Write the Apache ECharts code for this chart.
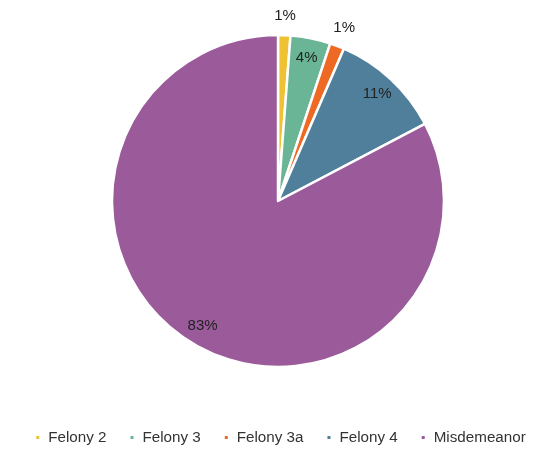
<!DOCTYPE html>
<html><head><meta charset="utf-8">
<script src="https://cdn.jsdelivr.net/npm/echarts@6/dist/echarts.min.js"></script>
<style>html,body{margin:0;padding:0;background:#fff}#c{width:560px;height:450px}</style>
</head><body><div id="c"></div>
<script>
var categories = ['Felony 2', 'Felony 3', 'Felony 3a', 'Felony 4', 'Misdemeanor'];
var values = [1.2, 3.9, 1.4, 10.8, 82.7];
var colors = ['#EFC234', '#69B596', '#EE6A24', '#4F7F9A', '#9B5B9B'];
var outsideLabels = ['Felony 2', 'Felony 3a'];

var chart = echarts.init(document.getElementById('c'));
var fmt = function (p) { return Math.round(p.percent) + '%'; };
var C = [278, 201], R = 166;
function mk(showFn) {
  return categories.map(function (n, i) {
    return { name: n, value: values[i], label: { show: showFn(n) } };
  });
}
chart.setOption({
  animation: false,
  color: colors,
  legend: {
    bottom: 0, left: 'center',
    icon: 'rect', itemWidth: 5, itemHeight: 5, itemGap: 22,
    textStyle: { fontFamily: 'Liberation Sans, Arial', fontSize: 15.2, color: '#333', padding: [0, 0, 0, 3] },
    data: categories
  },
  series: [
    {
      type: 'pie', center: C, radius: [0, R], startAngle: 90, clockwise: true,
      label: { show: false }, labelLine: { show: false },
      itemStyle: { borderColor: '#fff', borderWidth: 2.5 },
      data: categories.map(function (n, i) { return { name: n, value: values[i] }; })
    },
    {
      type: 'pie', center: C, radius: [R * 0.72, R], startAngle: 90, silent: true,
      itemStyle: { color: 'rgba(0,0,0,0)' },
      label: { position: 'inside', formatter: fmt, fontFamily: 'Liberation Sans, Arial', fontSize: 15, color: '#222' },
      labelLine: { show: false },
      data: mk(function (n) { return outsideLabels.indexOf(n) < 0; })
    },
    {
      type: 'pie', center: C, radius: [R * 1.04, R * 1.16], startAngle: 90, silent: true,
      itemStyle: { color: 'rgba(0,0,0,0)' },
      label: { position: 'inside', formatter: fmt, fontFamily: 'Liberation Sans, Arial', fontSize: 15, color: '#222' },
      labelLine: { show: false },
      data: mk(function (n) { return outsideLabels.indexOf(n) >= 0; })
    }
  ]
});
</script></body></html>
